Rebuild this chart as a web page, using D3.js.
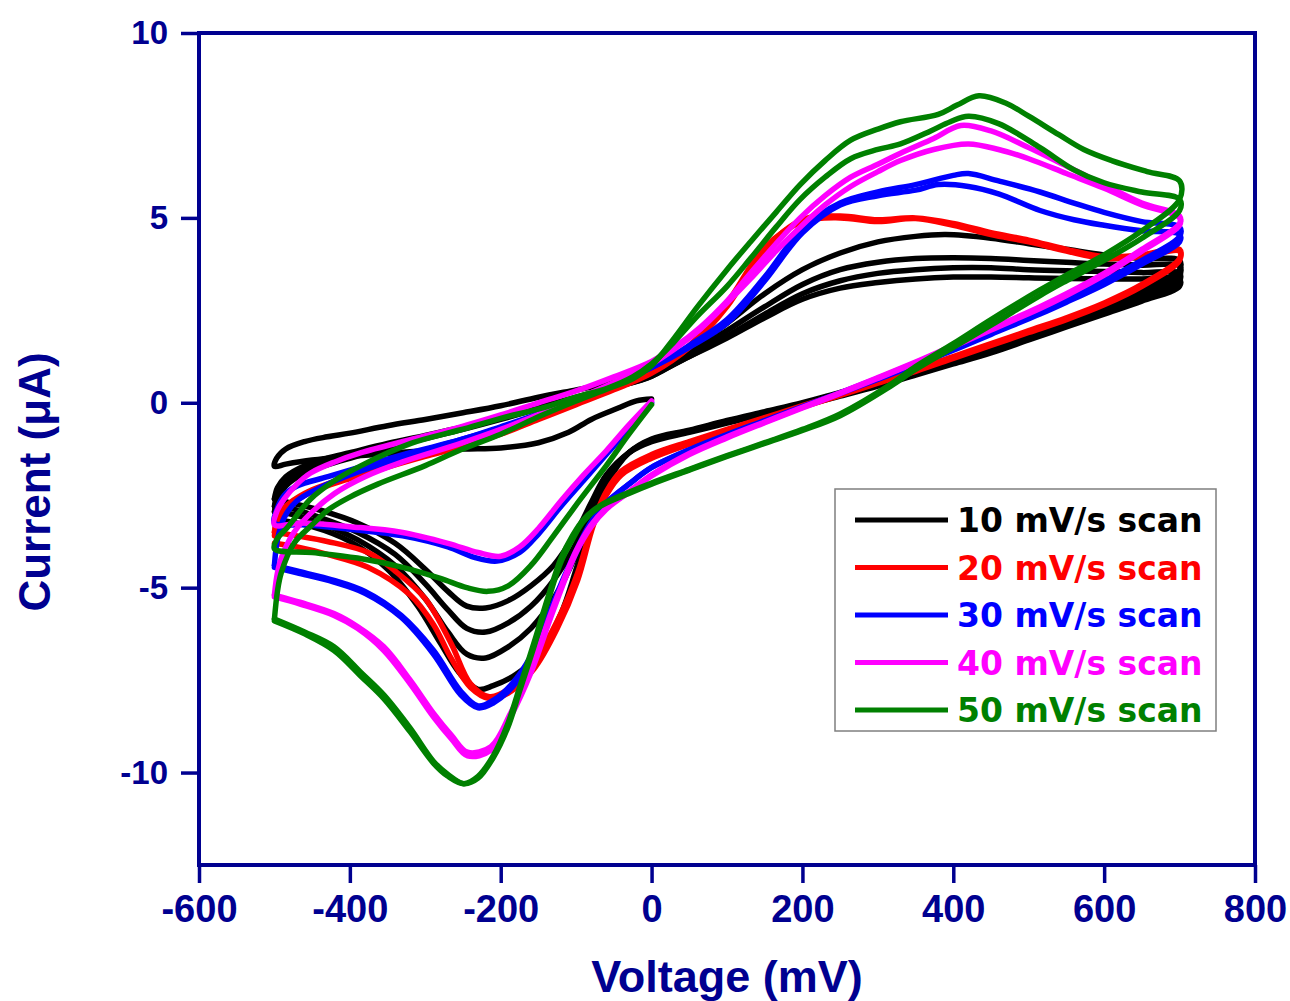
<!DOCTYPE html>
<html><head><meta charset="utf-8">
<script src="https://cdn.jsdelivr.net/npm/d3@7"></script>
<style>body{margin:0;background:#fff}</style>
</head><body><svg id="chart" width="1290" height="1001"></svg>
<script>
// ---------- DATA ----------
const legendLabels = ["10 mV/s scan","20 mV/s scan","30 mV/s scan","40 mV/s scan","50 mV/s scan"];
const xTicks = [-600,-400,-200,0,200,400,600,800];
const yTicks = [-10,-5,0,5,10];
const xTitle = "Voltage (mV)";
const yTitle = "Current (\u03BCA)";

// 10 mV/s cycles: [voltage mV, current uA]
const cv10_c1 = [[0,0.1],[-20,0.05],[-45,-0.15],[-80,-0.45],[-110,-0.8],[-150,-1.08],[-200,-1.22],[-250,-1.25],[-300,-1.3],[-350,-1.37],[-400,-1.45],[-450,-1.55],[-485,-1.66],[-500,-1.72],
[-497,-1.5],[-485,-1.25],[-460,-1.05],[-430,-0.92],[-400,-0.82],[-350,-0.62],[-300,-0.45],[-250,-0.27],[-200,-0.08],[-150,0.15],[-100,0.35],[-50,0.55],[0,0.8],[50,1.25],[100,1.75],[150,2.3],[200,2.8],[250,3.1],[300,3.25],[350,3.35],[400,3.4],[450,3.4],[500,3.38],[550,3.36],[600,3.35],[650,3.35],[700,3.35],
[700,3.15],[650,2.75],[600,2.4],[550,2.05],[500,1.7],[450,1.35],[400,1.05],[350,0.75],[300,0.45],[250,0.18],[200,-0.08],[150,-0.3],[100,-0.55],[50,-0.8],[0,-1.05],[-30,-1.35],[-60,-1.95],[-80,-2.7],[-100,-3.5],[-130,-4.4],[-160,-4.95],[-190,-5.35],[-220,-5.55],[-245,-5.5],[-270,-5.1],[-300,-4.5],[-340,-3.8],[-390,-3.25],[-440,-2.9],[-480,-2.7],[-500,-2.6]];
const cv10_c2 = [[-500,-2.6],[-496,-2.3],[-485,-2.0],[-460,-1.7],[-430,-1.5],[-400,-1.35],[-350,-1.1],[-300,-0.88],[-250,-0.65],[-200,-0.4],[-150,-0.12],[-100,0.15],[-50,0.45],[0,0.75],[50,1.25],[100,1.8],[150,2.4],[200,2.95],[250,3.3],[300,3.5],[350,3.6],[400,3.65],[450,3.65],[500,3.6],[550,3.57],[600,3.55],[650,3.52],[700,3.5],
[700,3.3],[650,2.85],[600,2.45],[550,2.1],[500,1.75],[450,1.4],[400,1.1],[350,0.8],[300,0.5],[250,0.22],[200,-0.05],[150,-0.28],[100,-0.52],[50,-0.78],[0,-1.02],[-30,-1.35],[-60,-2.05],[-80,-2.85],[-100,-3.8],[-130,-4.8],[-160,-5.5],[-190,-5.95],[-220,-6.2],[-245,-6.1],[-270,-5.6],[-300,-4.9],[-340,-4.1],[-390,-3.5],[-440,-3.1],[-480,-2.85],[-500,-2.8]];
const cv10_c3 = [[-500,-2.8],[-496,-2.45],[-485,-2.1],[-460,-1.8],[-430,-1.6],[-400,-1.42],[-350,-1.15],[-300,-0.92],[-250,-0.68],[-200,-0.42],[-150,-0.14],[-100,0.13],[-50,0.42],[0,0.72],[50,1.3],[100,1.95],[150,2.6],[200,3.2],[250,3.6],[300,3.8],[350,3.9],[400,3.92],[450,3.9],[500,3.85],[550,3.8],[600,3.75],[650,3.72],[700,3.7],
[700,3.45],[650,2.95],[600,2.55],[550,2.15],[500,1.8],[450,1.45],[400,1.13],[350,0.83],[300,0.53],[250,0.25],[200,-0.02],[150,-0.26],[100,-0.5],[50,-0.76],[0,-1.0],[-30,-1.35],[-60,-2.1],[-80,-3.0],[-100,-4.1],[-130,-5.3],[-160,-6.1],[-190,-6.6],[-220,-6.9],[-245,-6.8],[-270,-6.2],[-300,-5.3],[-340,-4.4],[-390,-3.7],[-440,-3.25],[-480,-3.0],[-500,-2.95]];
const cv10_c4 = [[-500,-2.95],[-496,-2.6],[-485,-2.25],[-460,-1.9],[-430,-1.68],[-400,-1.5],[-350,-1.22],[-300,-0.97],[-250,-0.72],[-200,-0.45],[-150,-0.16],[-100,0.12],[-50,0.42],[0,0.72],[50,1.4],[100,2.15],[150,2.95],[200,3.6],[250,4.05],[300,4.35],[350,4.5],[390,4.55],[450,4.45],[500,4.3],[550,4.15],[600,4.0],[650,3.9],[700,3.85],
[700,3.6],[650,3.05],[600,2.6],[550,2.2],[500,1.85],[450,1.5],[400,1.17],[350,0.86],[300,0.56],[250,0.28],[200,0.0],[150,-0.24],[100,-0.48],[50,-0.74],[0,-0.98],[-30,-1.35],[-60,-2.2],[-80,-3.2],[-100,-4.5],[-120,-5.7],[-150,-6.8],[-180,-7.35],[-210,-7.65],[-230,-7.75],[-255,-7.3],[-280,-6.5],[-310,-5.5],[-350,-4.5],[-400,-3.75],[-450,-3.35],[-500,-3.15]];

// 20 mV/s cycles
const cv20_c1 = [[-500,-3.6],[-496,-3.2],[-485,-2.85],[-460,-2.5],[-430,-2.25],[-400,-2.05],[-360,-1.8],[-300,-1.45],[-253,-1.2],[-200,-0.85],[-150,-0.45],[-100,-0.05],[-50,0.35],[0,0.8],[50,1.5],[100,2.6],[150,4.15],[200,4.95],[250,5.05],[300,4.95],[350,5.0],[400,4.85],[450,4.6],[500,4.4],[550,4.15],[600,3.95],[650,4.0],[700,4.15],
[700,3.9],[650,3.2],[600,2.7],[550,2.3],[500,1.95],[450,1.6],[400,1.25],[350,0.9],[300,0.58],[250,0.25],[200,-0.08],[150,-0.4],[100,-0.72],[50,-1.05],[0,-1.4],[-40,-1.85],[-60,-2.4],[-77,-3.2],[-98,-4.6],[-125,-5.9],[-156,-7.0],[-190,-7.75],[-215,-7.95],[-240,-7.6],[-266,-6.5],[-300,-5.3],[-340,-4.55],[-376,-4.05],[-430,-3.75],[-470,-3.6],[-500,-3.5]];
const cv20_c2 = [[-500,-3.5],[-496,-3.1],[-485,-2.8],[-460,-2.45],[-430,-2.2],[-400,-2.0],[-360,-1.75],[-300,-1.4],[-253,-1.15],[-200,-0.8],[-150,-0.42],[-100,-0.02],[-50,0.38],[0,0.82],[50,1.55],[100,2.7],[150,4.2],[200,4.9],[250,5.0],[300,4.9],[350,4.98],[400,4.8],[450,4.55],[500,4.35],[550,4.1],[600,3.9],[650,3.95],[700,4.1],
[700,3.85],[650,3.15],[600,2.65],[550,2.25],[500,1.9],[450,1.55],[400,1.2],[350,0.85],[300,0.53],[250,0.2],[200,-0.12],[150,-0.45],[100,-0.78],[50,-1.12],[0,-1.5],[-40,-1.95],[-60,-2.5],[-77,-3.3],[-98,-4.8],[-125,-6.1],[-156,-7.2],[-190,-7.85],[-215,-8.0],[-240,-7.7],[-266,-6.9],[-289,-6.0],[-320,-5.2],[-376,-4.45],[-430,-4.1],[-470,-3.9],[-500,-3.8]];

// 30 mV/s cycles
const cv30_c1 = [[0,0],[-30,-0.7],[-60,-1.4],[-90,-2.1],[-120,-2.8],[-150,-3.55],[-175,-4.05],[-205,-4.28],[-235,-4.18],[-270,-3.9],[-330,-3.6],[-400,-3.42],[-460,-3.3],[-500,-3.25],
[-497,-2.9],[-487,-2.5],[-470,-2.25],[-429,-2.0],[-380,-1.7],[-320,-1.35],[-253,-1.0],[-200,-0.65],[-150,-0.3],[-100,0.1],[-50,0.5],[0,0.95],[50,1.5],[100,2.15],[150,3.3],[200,4.6],[250,5.35],[300,5.6],[350,5.75],[380,5.9],[420,5.85],[460,5.65],[515,5.2],[560,4.95],[600,4.8],[650,4.65],[700,4.55],
[700,4.35],[650,3.75],[600,3.2],[550,2.72],[515,2.4],[450,1.85],[400,1.42],[350,1.02],[300,0.63],[250,0.25],[200,-0.12],[150,-0.5],[100,-0.88],[50,-1.28],[0,-1.75],[-30,-2.2],[-60,-2.7],[-81,-3.25],[-100,-4.0],[-120,-4.9],[-140,-5.9],[-160,-6.85],[-185,-7.6],[-210,-8.05],[-230,-8.2],[-253,-7.8],[-289,-6.7],[-332,-5.75],[-380,-5.1],[-421,-4.8],[-470,-4.55],[-500,-4.4]];
const cv30_c2 = [[-500,-4.4],[-496,-3.7],[-487,-3.1],[-470,-2.65],[-440,-2.3],[-400,-1.95],[-350,-1.6],[-300,-1.28],[-253,-1.0],[-200,-0.68],[-150,-0.32],[-100,0.08],[-50,0.5],[0,0.95],[50,1.55],[100,2.25],[150,3.4],[200,4.7],[250,5.4],[300,5.7],[350,5.9],[400,6.15],[420,6.2],[460,6.0],[515,5.7],[560,5.4],[600,5.15],[650,4.9],[700,4.75],
[700,4.5],[650,3.85],[600,3.3],[550,2.8],[515,2.47],[450,1.9],[400,1.47],[350,1.06],[300,0.66],[250,0.27],[200,-0.1],[150,-0.48],[100,-0.86],[50,-1.27],[0,-1.75],[-30,-2.2],[-60,-2.72],[-81,-3.3],[-100,-4.05],[-120,-5.0],[-140,-6.0],[-160,-6.95],[-185,-7.7],[-210,-8.12],[-230,-8.25],[-253,-7.9],[-289,-6.8],[-332,-5.8],[-380,-5.15],[-421,-4.85],[-470,-4.6],[-500,-4.45]];

// 40 mV/s cycles
const cv40_c1 = [[0,0.05],[-30,-0.6],[-60,-1.3],[-90,-1.95],[-120,-2.65],[-150,-3.4],[-175,-3.9],[-200,-4.15],[-230,-4.05],[-270,-3.8],[-332,-3.5],[-400,-3.35],[-465,-3.25],[-500,-3.3],
[-497,-2.95],[-487,-2.6],[-470,-2.2],[-452,-1.9],[-420,-1.6],[-385,-1.35],[-320,-1.0],[-253,-0.65],[-200,-0.33],[-150,0.0],[-100,0.32],[-50,0.7],[0,1.12],[30,1.5],[65,2.05],[100,2.75],[131,3.5],[165,4.3],[197,5.0],[230,5.6],[264,6.1],[300,6.45],[330,6.75],[374,7.15],[410,7.5],[450,7.35],[500,6.9],[550,6.4],[600,5.9],[650,5.4],[700,5.05],
[700,4.85],[650,4.15],[600,3.5],[550,2.95],[515,2.6],[450,2.0],[400,1.55],[350,1.1],[300,0.68],[250,0.27],[200,-0.12],[150,-0.52],[100,-0.92],[50,-1.37],[0,-1.95],[-30,-2.4],[-60,-2.85],[-80,-3.3],[-100,-4.0],[-130,-5.5],[-160,-7.2],[-187,-8.4],[-213,-9.3],[-244,-9.45],[-265,-9.0],[-289,-8.4],[-320,-7.5],[-355,-6.6],[-390,-6.05],[-421,-5.7],[-465,-5.4],[-500,-5.2]];
const cv40_c2 = [[-500,-5.2],[-496,-4.6],[-490,-4.15],[-474,-3.5],[-450,-2.95],[-420,-2.45],[-380,-2.0],[-330,-1.6],[-253,-1.1],[-200,-0.72],[-150,-0.32],[-100,0.1],[-50,0.55],[0,1.05],[30,1.45],[65,2.0],[100,2.7],[131,3.35],[165,4.1],[197,4.75],[230,5.35],[264,5.85],[300,6.25],[330,6.55],[374,6.85],[420,7.0],[460,6.85],[500,6.6],[550,6.2],[600,5.8],[650,5.35],[700,5.0],
[700,4.8],[650,4.1],[600,3.45],[550,2.9],[515,2.55],[450,1.97],[400,1.52],[350,1.08],[300,0.66],[250,0.25],[200,-0.14],[150,-0.54],[100,-0.95],[50,-1.4],[0,-1.98],[-30,-2.42],[-60,-2.88],[-80,-3.35],[-100,-4.05],[-130,-5.6],[-160,-7.3],[-187,-8.5],[-213,-9.4],[-244,-9.55],[-265,-9.1],[-289,-8.5],[-320,-7.6],[-355,-6.7],[-390,-6.1],[-421,-5.75],[-465,-5.45],[-500,-5.25]];

// 50 mV/s cycles
const cv50_c1 = [[0,-0.05],[-30,-0.85],[-60,-1.7],[-94,-2.6],[-130,-3.6],[-160,-4.4],[-190,-4.95],[-217,-5.1],[-245,-5.0],[-280,-4.75],[-330,-4.45],[-390,-4.2],[-450,-4.05],[-500,-3.95],
[-497,-3.7],[-482,-3.35],[-452,-2.6],[-420,-2.1],[-385,-1.7],[-319,-1.1],[-253,-0.73],[-200,-0.42],[-147,-0.15],[-100,0.15],[-58,0.4],[-25,0.7],[0,1.05],[30,1.65],[61,2.35],[100,3.15],[131,3.9],[165,4.75],[197,5.5],[230,6.1],[264,6.6],[300,6.85],[330,7.0],[370,7.35],[396,7.6],[420,7.75],[460,7.55],[515,6.9],[560,6.3],[600,5.95],[650,5.7],[700,5.5],
[700,5.2],[650,4.45],[600,3.85],[550,3.3],[515,2.9],[450,2.1],[400,1.5],[350,0.9],[317,0.45],[250,-0.35],[200,-0.75],[150,-1.1],[100,-1.45],[50,-1.82],[0,-2.2],[-30,-2.45],[-68,-2.8],[-90,-3.2],[-105,-3.7],[-120,-4.3],[-138,-5.4],[-156,-6.6],[-175,-7.8],[-191,-8.8],[-210,-9.6],[-230,-10.15],[-249,-10.3],[-270,-10.05],[-289,-9.7],[-320,-8.8],[-355,-7.9],[-385,-7.3],[-421,-6.6],[-460,-6.2],[-500,-5.85]];
const cv50_c2 = [[-500,-5.85],[-496,-5.1],[-491,-4.6],[-474,-3.8],[-450,-3.3],[-429,-2.9],[-400,-2.55],[-363,-2.2],[-300,-1.7],[-253,-1.27],[-200,-0.85],[-147,-0.35],[-100,0.05],[-58,0.38],[-25,0.65],[0,1.0],[30,1.75],[61,2.6],[100,3.6],[131,4.35],[165,5.15],[197,5.9],[230,6.55],[264,7.1],[300,7.4],[330,7.6],[380,7.8],[405,8.05],[434,8.3],[470,8.1],[500,7.75],[540,7.25],[573,6.85],[610,6.55],[657,6.25],[700,6.0],
[700,5.5],[650,4.65],[600,4.0],[550,3.45],[515,3.05],[450,2.25],[400,1.6],[350,0.98],[317,0.5],[250,-0.3],[200,-0.72],[150,-1.08],[100,-1.43],[50,-1.8],[0,-2.17],[-30,-2.42],[-68,-2.78],[-90,-3.15],[-105,-3.6],[-120,-4.2],[-138,-5.3],[-156,-6.5],[-175,-7.7],[-191,-8.7],[-210,-9.55],[-230,-10.1],[-249,-10.3],[-270,-10.1],[-289,-9.75],[-320,-8.9],[-355,-8.0],[-385,-7.4],[-421,-6.7],[-460,-6.25],[-500,-5.9]];

const cv10 = [cv10_c1, cv10_c2, cv10_c3, cv10_c4];
const cv20 = [cv20_c1, cv20_c2];
const cv30 = [cv30_c1, cv30_c2];
const cv40 = [cv40_c1, cv40_c2];
const cv50 = [cv50_c1, cv50_c2];
const allSeries = [cv10, cv20, cv30, cv40, cv50];

// ---------- STYLE ----------
const seriesColors = ["#000000","#ff0000","#0000ff","#ff00ff","#008000"];
const axisColor = "#000090";
const W = 1290, H = 1001;
const M = {left:199, right:1255, top:33, bottom:865};

const svg = d3.select("#chart");
svg.append("rect").attr("width",W).attr("height",H).attr("fill","#fff");

const x = d3.scaleLinear().domain([-600,800]).range([M.left,M.right]);
const y = d3.scaleLinear().domain([-12.5,10]).range([M.bottom,M.top]);

const line = d3.line().x(d=>x(d[0])).y(d=>y(d[1])).curve(d3.curveCatmullRom.alpha(0.5));

const plot = svg.append("g");
allSeries.forEach((cycles,i)=>{
  cycles.forEach(c=>{
    plot.append("path").attr("d",line(c)).attr("fill","none")
      .attr("stroke",seriesColors[i]).attr("stroke-width",5.5)
      .attr("stroke-linejoin","round").attr("stroke-linecap","round");
  });
});

// frame
svg.append("rect").attr("x",M.left).attr("y",M.top)
  .attr("width",M.right-M.left).attr("height",M.bottom-M.top)
  .attr("fill","none").attr("stroke",axisColor).attr("stroke-width",4);

// axes
const xAxis = svg.append("g").attr("transform",`translate(0,${M.bottom})`)
  .call(d3.axisBottom(x).tickValues(xTicks).tickSize(18).tickSizeOuter(0).tickPadding(12).tickFormat(d=>String(d)));
const yAxis = svg.append("g").attr("transform",`translate(${M.left},0)`)
  .call(d3.axisLeft(y).tickValues(yTicks).tickSize(18).tickSizeOuter(0).tickPadding(13).tickFormat(d=>String(d)));
[xAxis,yAxis].forEach(a=>{
  a.select(".domain").remove();
  a.selectAll(".tick line").attr("stroke",axisColor).attr("stroke-width",3.5);
  a.selectAll(".tick text").attr("fill",axisColor)
    .style("font-family","'Liberation Sans', Arial, sans-serif").style("font-weight","bold");
});
xAxis.selectAll(".tick text").style("font-size","38px");
yAxis.selectAll(".tick text").style("font-size","33px");

// titles
svg.append("text").attr("x",727).attr("y",992).attr("text-anchor","middle")
  .attr("fill",axisColor).style("font-family","'Liberation Sans', Arial, sans-serif")
  .style("font-weight","bold").style("font-size","45px").text(xTitle);
svg.append("text").attr("transform","translate(50,482) rotate(-90)").attr("text-anchor","middle")
  .attr("fill",axisColor).style("font-family","'Liberation Sans', Arial, sans-serif")
  .style("font-weight","bold").style("font-size","44px").text(yTitle);

// legend
const lg = svg.append("g");
lg.append("rect").attr("x",835).attr("y",489).attr("width",381).attr("height",242)
  .attr("fill","#fff").attr("stroke","#7f7f7f").attr("stroke-width",1.5);
legendLabels.forEach((lab,i)=>{
  const cy = 520 + i*47.5;
  lg.append("line").attr("x1",855).attr("x2",948).attr("y1",cy).attr("y2",cy)
    .attr("stroke",seriesColors[i]).attr("stroke-width",5);
  lg.append("text").attr("x",957).attr("y",cy+12).attr("fill",seriesColors[i])
    .style("font-family","'DejaVu Sans', Verdana, sans-serif").style("font-weight","bold")
    .style("font-size","33px").text(lab);
});
</script>
</body></html>
